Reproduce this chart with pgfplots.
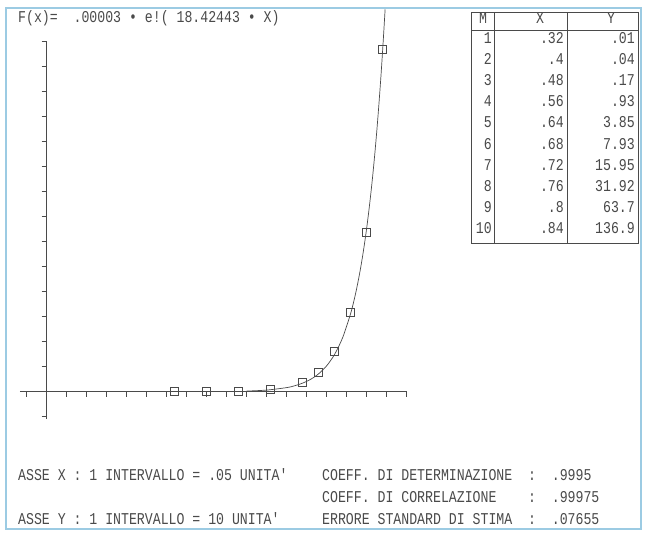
\documentclass[border=0pt]{standalone}
\usepackage{pgfplots}
\pgfplotsset{compat=1.18}
\usepackage{fontspec}
\newfontfamily\dos{Liberation Mono}[FakeStretch=0.8]
\definecolor{ink}{HTML}{4A4A4A}
\definecolor{frm}{HTML}{9CCBE3}
\begin{document}
\begin{tikzpicture}
\useasboundingbox (0,0) rectangle (646pt,-533pt);
\fill[white] (0,0) rectangle (646pt,-533pt);
\draw[frm, line width=2pt] (6pt,-529pt) rectangle (641pt,-8pt);
\begin{axis}[
  anchor=origin, at={(46.7pt,-391.7pt)},
  x=400pt, y=2.5pt,
  xmin=-0.067, xmax=0.9, ymin=-11, ymax=140,
  axis lines=middle,
  axis line style={-, draw=ink, line width=0.8pt},
  xtick={-0.05,0.05,0.1,0.15,0.2,0.25,0.3,0.35,0.4,0.45,0.5,0.55,0.6,0.65,0.7,0.75,0.8,0.85,0.9},
  ytick={-10,10,20,30,40,50,60,70,80,90,100,110,120,130,140},
  xticklabels={}, yticklabels={},
  major tick length=5pt,
  tick align=outside,
  tick style={draw=ink, line width=0.6pt},
  clip=false,
]
\addplot[ink, line width=0.7pt, smooth, no marks] coordinates {
(0.50,0.26) (0.55,0.65) (0.60,1.64) (0.62,2.38) (0.64,3.44) (0.66,4.97)
(0.68,7.18) (0.70,10.38) (0.72,15.00) (0.74,21.69) (0.76,31.35) (0.77,37.69)
(0.775,41.33) (0.78,45.32) (0.785,49.69) (0.79,54.48) (0.795,59.74) (0.80,65.50)
(0.805,71.83) (0.81,78.76) (0.815,86.35) (0.82,94.68) (0.825,103.8) (0.83,113.85)
(0.835,124.8) (0.84,136.9) (0.845,150.1) (0.846,152.9)
};
\addplot[only marks, mark=square, mark size=4pt, mark options={draw=ink, line width=0.7pt, fill=none}] coordinates {
(0.32,0.01) (0.4,0.04) (0.48,0.17) (0.56,0.93) (0.64,3.85)
(0.68,7.93) (0.72,15.95) (0.76,31.92) (0.8,63.7) (0.84,136.9)
};
\end{axis}
\tikzset{t/.style={inner sep=0pt, text=ink, font=\dos\fontsize{16.5}{17}\selectfont}}
\node[t, anchor=mid west] at (18pt,-20pt) {F(x)=~~.00003 • e!( 18.42443 • X)};
% table
\draw[ink, line width=0.8pt] (471pt,-12pt) rectangle (638pt,-243pt);
\draw[ink, line width=0.8pt] (471pt,-30pt) -- (638pt,-30pt);
\draw[ink, line width=0.8pt] (494pt,-12pt) -- (494pt,-243pt);
\draw[ink, line width=0.8pt] (567pt,-12pt) -- (567pt,-243pt);
\node[t, anchor=mid] at (483pt,-21pt) {M};
\node[t, anchor=mid] at (540pt,-21pt) {X};
\node[t, anchor=mid] at (611pt,-21pt) {Y};
\foreach \n/\xv/\yv [count=\i] in {1/.32/.01, 2/.4/.04, 3/.48/.17, 4/.56/.93, 5/.64/3.85, 6/.68/7.93, 7/.72/15.95, 8/.76/31.92, 9/.8/63.7, 10/.84/136.9}{
  \pgfmathsetmacro\yy{-41-21.2*(\i-1)}
  \node[t, anchor=mid east] at (492pt,\yy pt) {\n};
  \node[t, anchor=mid east] at (564pt,\yy pt) {\xv};
  \node[t, anchor=mid east] at (635pt,\yy pt) {\yv};
}
% bottom text
\node[t, anchor=mid west] at (18pt,-478pt) {ASSE X : 1 INTERVALLO = .05 UNITA'};
\node[t, anchor=mid west] at (322pt,-478pt) {COEFF. DI DETERMINAZIONE~~:~~.9995};
\node[t, anchor=mid west] at (322pt,-500pt) {COEFF. DI CORRELAZIONE~~~~:~~.99975};
\node[t, anchor=mid west] at (18pt,-522pt) {ASSE Y : 1 INTERVALLO = 10 UNITA'};
\node[t, anchor=mid west] at (322pt,-522pt) {ERRORE STANDARD DI STIMA~~:~~.07655};
\end{tikzpicture}
\end{document}
